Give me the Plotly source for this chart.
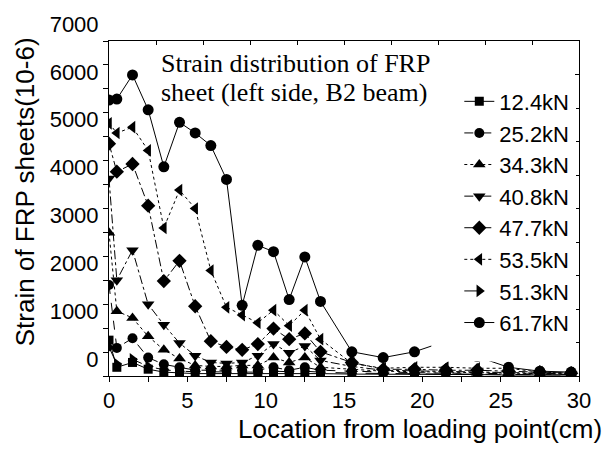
import plotly.graph_objects as go

# ---- data ----
location_cm = [0, 0.5, 1.5, 2.5, 3.5, 4.5, 5.5, 6.5, 7.5, 8.5, 9.5, 10.5, 11.5,
               12.5, 13.5, 15.5, 17.5, 19.5, 21.5, 23.5, 25.5, 27.5, 29.5]

load_labels = ["12.4kN", "25.2kN", "34.3kN", "40.8kN", "47.7kN", "53.5kN", "51.3kN", "61.7kN"]

strain_12_4 = [749, 182, 283, 142, 81, 60, 50, 50, 50, 50, 50, 60, 50, 60, 50, 40, 40, 30, 30, 30, 20, 20, 20]
strain_25_2 = [1902, 587, 789, 384, 243, 182, 121, 121, 121, 121, 121, 182, 121, 182, 121, 100, 80, 70, 60, 60, 50, 40, 30]
strain_34_3 = [2994, 1355, 1214, 829, 546, 364, 222, 200, 200, 222, 222, 384, 283, 384, 182, 140, 100, 90, 80, 70, 60, 50, 40]
strain_40_8 = [4127, 2003, 2630, 1497, 1072, 688, 425, 283, 263, 283, 425, 668, 486, 627, 324, 200, 120, 110, 100, 90, 80, 60, 40]
strain_47_7 = [4855, 4269, 4430, 3560, 1983, 2407, 1457, 728, 607, 546, 668, 991, 769, 890, 506, 283, 140, 140, 120, 120, 100, 80, 60]
strain_53_5 = [5280, 5078, 5199, 4714, 3095, 3884, 3500, 2205, 1436, 1274, 1113, 1376, 1052, 1376, 769, 263, 162, 182, 182, 162, 162, 81, 61]
strain_51_3 = [600, 250, 350, 200, 130, 100, 90, 90, 80, 80, 80, 100, 90, 100, 80, 60, 50, 50, 40, 40, 30, 30, 20]
strain_61_7 = [5766, 5786, 6292, 5563, 4370, 5300, 5078, 4815, 4107, 1477, 2731, 2598, 1598, 2488, 1558, 506, 384, 506, 728, 405, 182, 101, 81]

series = [strain_12_4, strain_25_2, strain_34_3, strain_40_8,
          strain_47_7, strain_53_5, strain_51_3, strain_61_7]

# ---- styles ----
symbols = ["square", "circle", "triangle-up", "triangle-down",
           "diamond", "triangle-left", "triangle-right", "circle"]
sizes = [9, 10, 11, 11, 11, 11, 11, 11]
dashes = ["solid", "dash", "dot", "dashdot", "dashdot", "dot", "longdash", "solid"]

SANS = "Liberation Sans, Arial, sans-serif"
SERIF = "Liberation Serif, Times New Roman, serif"

fig = go.Figure()
for name, vals, sym, sz, dsh in zip(load_labels, series, symbols, sizes, dashes):
    fig.add_trace(go.Scatter(
        x=location_cm, y=vals, name=name, mode="lines+markers",
        line=dict(color="black", width=1, dash=dsh),
        marker=dict(symbol=sym, size=sz, color="black"),
    ))

# dummy trace to activate the secondary (frame) axes
fig.add_trace(go.Scatter(x=[], y=[], xaxis="x2", yaxis="y2", showlegend=False))

fig.update_layout(
    width=603, height=455,
    margin=dict(l=109, r=23, t=30, b=79),
    plot_bgcolor="white", paper_bgcolor="white",
    font=dict(family=SANS, color="black", size=22),
    showlegend=True,
    legend=dict(
        x=0.99, xanchor="right", y=0.882, yanchor="top",
        bgcolor="white", borderwidth=0,
        font=dict(size=22, family=SANS),
        tracegroupgap=0,
    ),
    xaxis=dict(
        range=[0, 30], dtick=5, tick0=0, showgrid=False, zeroline=False,
        showline=True, linecolor="black", linewidth=1,
        ticks="outside", ticklen=5, tickcolor="black",
        minor=dict(dtick=2.5, ticks="outside", ticklen=5, tickcolor="black"),
        tickfont=dict(size=22),
    ),
    yaxis=dict(
        range=[0, 7000], dtick=1000, tick0=0, showgrid=False, zeroline=False,
        showline=True, linecolor="black", linewidth=1,
        ticks="outside", ticklen=5, tickcolor="black",
        minor=dict(dtick=500, ticks="outside", ticklen=5, tickcolor="black"),
        tickfont=dict(size=22), ticklabelshift=-17,
    ),
    xaxis2=dict(
        overlaying="x", side="top", anchor="y", range=[0, 30], dtick=3,
        showgrid=False, zeroline=False, showticklabels=False,
        showline=True, linecolor="black", linewidth=1,
        ticks="inside", ticklen=4, tickcolor="black",
    ),
    yaxis2=dict(
        overlaying="y", side="right", anchor="x", range=[0, 7000], dtick=700,
        showgrid=False, zeroline=False, showticklabels=False,
        showline=True, linecolor="black", linewidth=1,
        ticks="inside", ticklen=4, tickcolor="black",
    ),
    shapes=[
        # white backing behind the legend block (hides lines passing under it)
        dict(type="rect", xref="paper", yref="paper", layer="above",
             x0=(432 - 109) / 471, x1=(577 - 109) / 471,
             y0=(376 - 361) / 346, y1=(376 - 86) / 346,
             fillcolor="white", line=dict(width=0)),
    ],
    annotations=[
        dict(text="Strain distribution of FRP", xref="paper", yref="paper",
             x=(159 - 109) / 471, y=(376 - 53) / 346, xanchor="left", yanchor="middle",
             showarrow=False, font=dict(family=SERIF, size=26)),
        dict(text="sheet (left side, B2 beam)", xref="paper", yref="paper",
             x=(159 - 109) / 471, y=(376 - 83) / 346, xanchor="left", yanchor="middle",
             showarrow=False, font=dict(family=SERIF, size=26)),
        dict(text="Location from loading point(cm)", xref="paper", yref="paper",
             x=(421 - 109) / 471, y=(376 - 431) / 346, xanchor="center", yanchor="middle",
             showarrow=False, font=dict(size=26)),
        dict(text="Strain of FRP sheets(10-6)", xref="paper", yref="paper",
             x=(25 - 109) / 471, y=(376 - 186) / 346, xanchor="center", yanchor="middle",
             textangle=-90, showarrow=False, font=dict(size=26)),
    ],
)

fig.write_html("out.html")
